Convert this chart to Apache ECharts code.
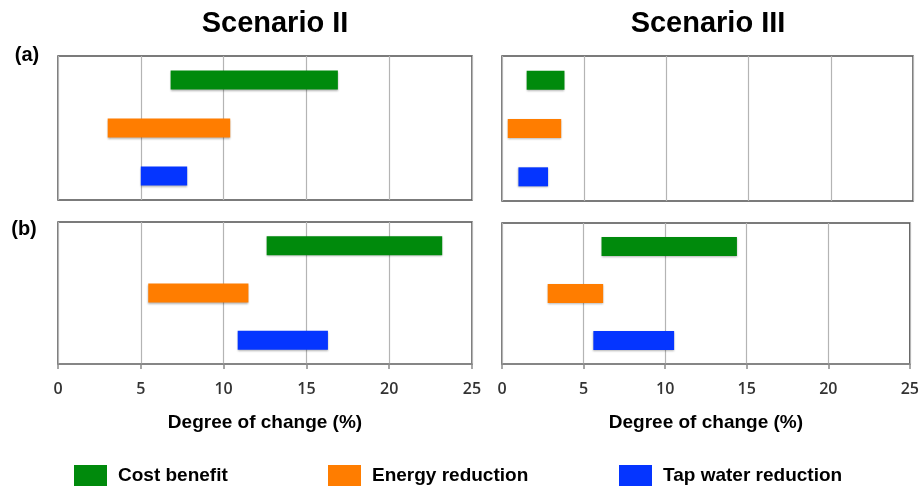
<!DOCTYPE html>
<html>
<head>
<meta charset="utf-8">
<script src="https://cdn.jsdelivr.net/npm/echarts@6/dist/echarts.min.js"></script>
<style>html,body{margin:0;padding:0;background:#fff;}#c{width:922px;height:486px;}</style>
</head>
<body>
<div id="c"></div>
<script>
const categories = ['Cost benefit', 'Energy reduction', 'Tap water reduction'];
const colors = ['#008a0c', '#ff7d00', '#0535ff'];
const tickLabels = ['0', '5', '10', '15', '20', '25'];
// [low, high] ranges per panel
const s2aLow = [6.8, 3.0, 5.0];   const s2aHigh = [16.9, 10.4, 7.8];
const s3aLow = [1.5, 0.35, 1.0];  const s3aHigh = [3.8, 3.6, 2.8];
const s2bLow = [12.6, 5.45, 10.85]; const s2bHigh = [23.2, 11.5, 16.3];
const s3bLow = [6.1, 2.8, 5.6];   const s3bHigh = [14.4, 6.2, 10.55];

const panels = [
  {low: s2aLow, high: s2aHigh, grid: {left: 58, width: 414, top: 56, height: 144}, bottom: false},
  {low: s3aLow, high: s3aHigh, grid: {left: 502, width: 411, top: 56, height: 145}, bottom: false},
  {low: s2bLow, high: s2bHigh, grid: {left: 58, width: 414, top: 222, height: 142}, bottom: true},
  {low: s3bLow, high: s3bHigh, grid: {left: 502, width: 411, top: 223, height: 141}, bottom: true}
];

const grids = [], xAxes = [], yAxes = [], series = [];
panels.forEach((p, i) => {
  grids.push(Object.assign({show: true, borderColor: '#505050', borderWidth: 1.5, backgroundColor: '#fff'}, p.grid));
  xAxes.push({
    type: 'value', gridIndex: i, min: 0, max: 25, interval: 5,
    splitLine: {show: true, lineStyle: {color: '#b4b4b4', width: 1.2}},
    axisLine: {show: p.bottom, lineStyle: {color: '#8a8a8a', width: 1.5}},
    axisTick: {show: p.bottom, length: 5, lineStyle: {color: '#8a8a8a', width: 1.5}},
    axisLabel: {show: p.bottom, margin: 17, color: '#333', fontFamily: 'Open Sans', fontWeight: 600, fontSize: 16,
      formatter: v => tickLabels[Math.round(v / 5)]},
    name: p.bottom ? 'Degree of change (%)' : '',
    nameLocation: 'middle', nameGap: 49,
    nameTextStyle: {color: '#000', fontFamily: 'Liberation Sans', fontWeight: 'bold', fontSize: 19}
  });
  yAxes.push({
    type: 'category', gridIndex: i, data: categories, inverse: true,
    axisLine: {show: false}, axisTick: {show: false}, axisLabel: {show: false}, splitLine: {show: false}
  });
  series.push({
    type: 'bar', name: 'base' + i, xAxisIndex: i, yAxisIndex: i, stack: 'st' + i, barWidth: 19,
    itemStyle: {color: 'rgba(0,0,0,0)'}, silent: true, data: p.low
  });
  categories.forEach((c, k) => {
    series.push({
      type: 'bar', name: c, xAxisIndex: i, yAxisIndex: i, stack: 'st' + i, barWidth: 19,
      itemStyle: {color: colors[k], shadowBlur: 2, shadowColor: 'rgba(0,0,0,0.3)', shadowOffsetY: 1},
      data: categories.map((_, j) => j === k ? +(p.high[j] - p.low[j]).toFixed(3) : '-')
    });
  });
});

const legendLefts = [74, 328, 619];
const legends = categories.map((c, k) => ({
  data: [c], left: legendLefts[k], top: 465, padding: 0, icon: 'rect', itemWidth: 33, itemHeight: 21,
  selectedMode: false, itemStyle: {color: colors[k]},
  textStyle: {color: '#000', fontFamily: 'Liberation Sans', fontWeight: 'bold', fontSize: 19, padding: [0, 0, 0, 6]}
}));

const chart = echarts.init(document.getElementById('c'), null, {renderer: 'canvas'});
chart.setOption({
  backgroundColor: '#fff',
  animation: false,
  grid: grids, xAxis: xAxes, yAxis: yAxes, series: series, legend: legends,
  graphic: [
    {type: 'text', x: 275, y: 24, style: {text: 'Scenario II', fill: '#000', font: 'bold 29px "Liberation Sans"', textAlign: 'center', textVerticalAlign: 'middle'}},
    {type: 'text', x: 708, y: 24, style: {text: 'Scenario III', fill: '#000', font: 'bold 29px "Liberation Sans"', textAlign: 'center', textVerticalAlign: 'middle'}},
    {type: 'text', x: 27, y: 55, style: {text: '(a)', fill: '#000', font: 'bold 20px "Liberation Sans"', textAlign: 'center', textVerticalAlign: 'middle'}},
    {type: 'text', x: 24, y: 229, style: {text: '(b)', fill: '#000', font: 'bold 20px "Liberation Sans"', textAlign: 'center', textVerticalAlign: 'middle'}}
  ]
});
</script>
</body>
</html>
